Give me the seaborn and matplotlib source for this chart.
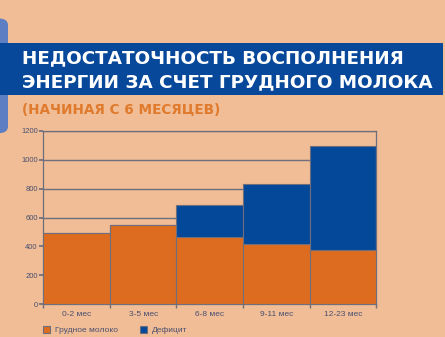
import matplotlib
matplotlib.use("Agg")
import matplotlib.pyplot as plt
from matplotlib.patches import Rectangle, FancyBboxPatch
import seaborn as sns

# data
ages = ["0-2 мес", "3-5 мес", "6-8 мес", "9-11 мес", "12-23 мес"]
breast_milk = [490, 550, 465, 420, 375]
deficit = [0, 0, 220, 410, 720]
total = [m + d for m, d in zip(breast_milk, deficit)]

bg = "#F0BD96"
orange = "#DE6C20"
blue = "#04489A"
band = "#08489A"
grey = "#6E6E7C"
txt = "#4A5070"

sns.set_theme(style="white")
plt.rcParams["font.family"] = ["Liberation Sans", "DejaVu Sans"]

fig = plt.figure(figsize=(4.45, 3.37), dpi=100, facecolor=bg)

# header decorations
fig.patches.append(FancyBboxPatch((-0.03, 0.605), 0.048, 0.34, boxstyle="round,pad=0,rounding_size=0.02",
                                  transform=fig.transFigure, facecolor="#5D7EC2", edgecolor="none", zorder=0))
fig.patches.append(Rectangle((0, 0.718), 0.996, 0.155, transform=fig.transFigure,
                             facecolor=band, edgecolor="none", zorder=1))
fig.text(0.049, 0.828, "НЕДОСТАТОЧНОСТЬ ВОСПОЛНЕНИЯ", color="white", fontsize=13.2,
         fontweight="bold", family="DejaVu Sans", va="center", ha="left")
fig.text(0.049, 0.757, "ЭНЕРГИИ ЗА СЧЕТ ГРУДНОГО МОЛОКА", color="white", fontsize=13.2,
         fontweight="bold", family="DejaVu Sans", va="center", ha="left")
fig.text(0.049, 0.674, "(НАЧИНАЯ С 6 МЕСЯЦЕВ)", color="#E07A2C", fontsize=9.8,
         fontweight="bold", family="DejaVu Sans", va="center", ha="left")

ax = fig.add_axes([0.0973, 0.097, 0.7483, 0.515])
ax.set_facecolor(bg)

sns.barplot(x=ages, y=total, color=blue, width=1.0, edgecolor=grey, linewidth=0.8,
            saturation=1, label="Дефицит", ax=ax, zorder=2)
sns.barplot(x=ages, y=breast_milk, color=orange, width=1.0, edgecolor=grey, linewidth=0.8,
            saturation=1, label="Грудное молоко", ax=ax, zorder=3)

ax.set_xlim(-0.5, len(ages) - 0.5)
ax.set_ylim(0, 1200)
ax.set_yticks(range(0, 1201, 200))
ax.yaxis.grid(True, color=grey, linewidth=1.0)
ax.set_axisbelow(True)
for s in ax.spines.values():
    s.set_color(grey)
    s.set_linewidth(0.9)

ax.set_xticks([i - 0.5 for i in range(len(ages) + 1)], minor=True)
ax.tick_params(axis="x", which="major", length=0, labelsize=6, labelcolor=txt, pad=5)
ax.tick_params(axis="x", which="minor", length=3, color=grey, direction="out", bottom=True)
ax.tick_params(axis="y", length=3, color=grey, direction="out", left=True, labelsize=5.5,
               labelcolor=txt, pad=1)
ax.set_xlabel("")
ax.set_ylabel("")

handles, labels = ax.get_legend_handles_labels()
ax.legend(handles[::-1], labels[::-1], ncol=2, loc="upper left", bbox_to_anchor=(-0.012, -0.105),
          frameon=False, fontsize=6, labelcolor=txt, handlelength=0.9, handleheight=0.9,
          handletextpad=0.6, columnspacing=2.6, borderaxespad=0)

fig.savefig("out.png", dpi=100, facecolor=bg)
